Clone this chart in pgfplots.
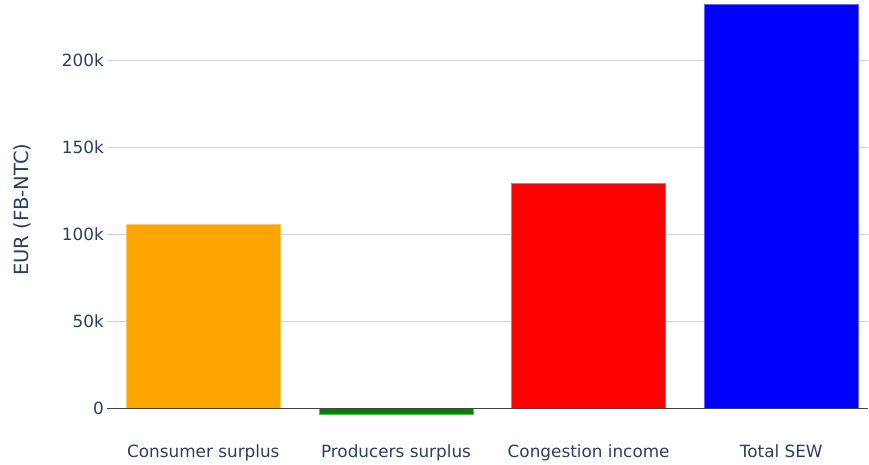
\documentclass[border=0pt]{standalone}
\usepackage{pgfplots}
\pgfplotsset{compat=1.18}
\usepackage{fontspec}
\setmainfont{DejaVu Sans}
\definecolor{txt}{HTML}{2A3F5F}
\definecolor{gridc}{RGB}{211,211,211}
\definecolor{zl}{HTML}{444444}
\definecolor{cOrange}{RGB}{255,165,0}
\definecolor{cGreen}{RGB}{0,128,0}
\definecolor{cRed}{RGB}{255,0,0}
\definecolor{cBlue}{RGB}{0,0,255}
\begin{document}
\begin{tikzpicture}[x=1bp,y=1bp]
\begin{axis}[
  at={(107bp,45.7bp)}, anchor=south west,
  scale only axis, width=761bp, height=419.3bp,
  xmin=-0.5, xmax=3.45, ymin=-6100, ymax=234900,
  axis line style={draw=none},
  tick style={draw=none},
  ytick={0,50000,100000,150000,200000},
  yticklabels={0,50k,100k,150k,200k},
  ymajorgrids, grid style={line width=1bp, color=gridc},
  xtick={0,1,2,3},
  xticklabels={Consumer surplus, Producers surplus, Congestion income, Total SEW},
  ticklabel style={font=\fontsize{16.9}{20}\selectfont, text=txt},
  yticklabel style={anchor=east, inner sep=0pt, xshift=-3bp},
  xticklabel style={anchor=north, inner sep=0pt, yshift=-25bp},
  ylabel={EUR (FB-NTC)},
  ylabel style={at={(axis description cs:-0.1117,0.5)}, anchor=center, font=\fontsize{19.6}{24}\selectfont, text=txt},
]
\addplot[ybar, bar width=0.8, bar shift=0pt, fill=cOrange, draw=cOrange!60!white, line width=0.6bp] coordinates {(0,106000)};
\addplot[ybar, bar width=0.8, bar shift=0pt, fill=cGreen, draw=cGreen!60!white, line width=0.6bp] coordinates {(1,-3400)};
\addplot[ybar, bar width=0.8, bar shift=0pt, fill=cRed, draw=cRed!60!white, line width=0.6bp] coordinates {(2,129500)};
\addplot[ybar, bar width=0.8, bar shift=0pt, fill=cBlue, draw=cBlue!60!white, line width=0.6bp] coordinates {(3,232200)};
\draw[zl, line width=1.3bp] (axis cs:-0.5,0) -- (axis cs:3.45,0);
\end{axis}
\pgfresetboundingbox
\path[use as bounding box] (0,0) rectangle (869bp,465bp);
\end{tikzpicture}
\end{document}
